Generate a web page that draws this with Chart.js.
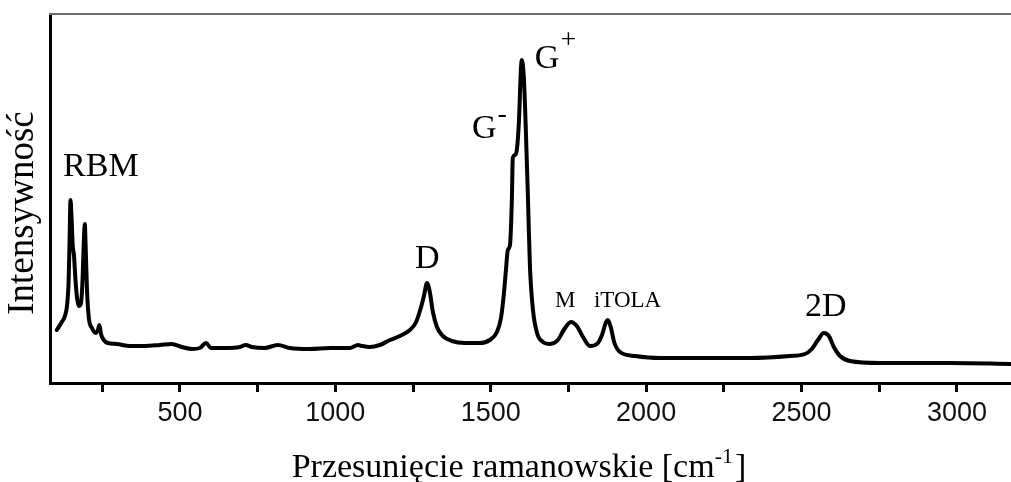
<!DOCTYPE html>
<html>
<head>
<meta charset="utf-8">
<script src="https://cdn.jsdelivr.net/npm/chart.js@4/dist/chart.umd.min.js"></script>
<style>
  html, body { margin: 0; padding: 0; background: #fff; }
  #wrap { width: 1011px; height: 482px; }
</style>
</head>
<body>
<div id="wrap"><canvas id="ramanCanvas" width="1011" height="482"></canvas></div>
<script>
// Raman spectrum: shift in cm^-1 and intensity in arbitrary units
const shift = [
  104, 120, 130, 137, 142, 145, 148, 151, 155, 159, 164, 169, 175, 181, 186, 191, 194, 197, 201, 207,
  217, 229, 236, 241, 246, 255, 268, 297, 339, 387, 436, 474, 506, 539, 564, 584, 600, 645, 693, 712,
  732, 773, 815, 854, 918, 983, 1047, 1073, 1086, 1111, 1143, 1176, 1208, 1240, 1260, 1275, 1285, 1295, 1304, 1314,
  1327, 1346, 1375, 1417, 1465, 1497, 1520, 1533, 1542, 1549, 1555, 1562, 1568, 1571, 1578, 1584, 1591, 1597, 1600, 1607,
  1613, 1620, 1626, 1636, 1649, 1668, 1691, 1716, 1735, 1758, 1777, 1797, 1819, 1842, 1858, 1871, 1877, 1887, 1897, 1916,
  1964, 2044, 2173, 2334, 2463, 2511, 2533, 2553, 2572, 2588, 2604, 2624, 2656, 2752, 2977, 3174
];
const intensity = [
  53, 61, 67, 78, 103, 143, 183, 168, 138, 128, 103, 85, 77, 79, 98, 143, 159, 133, 93, 65,
  55, 50, 53, 58, 49, 43, 40, 39, 37, 37, 38, 39, 36, 34, 35, 40, 35, 35, 36, 38,
  36, 35, 38, 35, 34, 35, 35, 38, 37, 36, 38, 43, 47, 53, 61, 75, 87, 100, 91, 71,
  56, 47, 42, 40, 40, 43, 51, 65, 88, 113, 133, 138, 183, 225, 228, 233, 263, 313, 323, 303,
  253, 183, 118, 73, 50, 41, 39, 43, 53, 61, 57, 46, 37, 39, 48, 61, 63, 55, 41, 31,
  27, 25, 25, 25, 27, 29, 34, 43, 50, 47, 36, 27, 22, 20, 20, 19
];

// axis range and tick labels
const xMin = 82;
const xMax = 3174;
const yMin = 0;
const yMax = 369;
const tickStep = 250;
const tickLabels = [500, 1000, 1500, 2000, 2500, 3000];

// peak labels: text, superscript, anchor (left edge / baseline) in data units
const peakText = ['RBM', 'D', 'G', 'G', 'M', 'iTOLA', '2D'];
const peakSup = ['', '', '-', '+', '', '', ''];
const peakX = [124, 1256, 1440, 1642, 1707, 1832, 2511];
const peakY = [207, 115, 245, 315, 76, 76, 67];
const peakBig = [true, true, true, true, false, false, true];

const xTitle = 'Przesunięcie ramanowskie [cm';
const xTitleSup = '-1';
const xTitleEnd = ']';
const yTitle = 'Intensywność';

const serif = '"Liberation Serif", "Times New Roman", serif';

const points = shift.map((s, i) => ({ x: s, y: intensity[i] }));

// labels, titles and the grey top frame line
const annotate = {
  id: 'annotate',
  afterDraw(chart) {
    const ctx = chart.ctx;
    const xs = chart.scales.x;
    const ys = chart.scales.y;
    const area = chart.chartArea;
    ctx.save();

    // top frame
    ctx.strokeStyle = '#6e6e6e';
    ctx.lineWidth = 2;
    ctx.beginPath();
    ctx.moveTo(area.left - 1, area.top);
    ctx.lineTo(area.right, area.top);
    ctx.stroke();

    ctx.fillStyle = '#000';
    ctx.textBaseline = 'alphabetic';
    ctx.textAlign = 'left';
    for (let i = 0; i < peakText.length; i++) {
      const px = xs.getPixelForValue(peakX[i]);
      const py = ys.getPixelForValue(peakY[i]);
      const size = peakBig[i] ? 34 : 23;
      ctx.font = size + 'px ' + serif;
      ctx.fillText(peakText[i], px, py);
      if (peakSup[i]) {
        const w = ctx.measureText(peakText[i]).width;
        ctx.font = '28px ' + serif;
        ctx.fillText(peakSup[i], px + w + 1, py - (peakSup[i] === '+' ? 20 : 16));
      }
    }

    // x title with superscript
    const big = '34px ' + serif;
    const small = '22px ' + serif;
    ctx.font = big;
    const w1 = ctx.measureText(xTitle).width;
    const w3 = ctx.measureText(xTitleEnd).width;
    ctx.font = small;
    const w2 = ctx.measureText(xTitleSup).width;
    const total = w1 + w2 + 2 + w3;
    let tx = 519 - total / 2;
    const ty = 477;
    ctx.font = big;
    ctx.fillText(xTitle, tx, ty);
    tx += w1;
    ctx.font = small;
    ctx.fillText(xTitleSup, tx, ty - 14);
    tx += w2 + 2;
    ctx.font = big;
    ctx.fillText(xTitleEnd, tx, ty);

    // y title
    ctx.translate(33, 213);
    ctx.rotate(-Math.PI / 2);
    ctx.textAlign = 'center';
    ctx.font = '37px ' + serif;
    ctx.fillText(yTitle, 0, 0);
    ctx.restore();
  }
};

new Chart(document.getElementById('ramanCanvas').getContext('2d'), {
  type: 'line',
  data: {
    datasets: [{
      data: points,
      borderColor: '#000',
      borderWidth: 4,
      pointRadius: 0,
      fill: false,
      cubicInterpolationMode: 'monotone',
      borderJoinStyle: 'round',
      borderCapStyle: 'round'
    }]
  },
  options: {
    responsive: false,
    animation: false,
    layout: { padding: { top: 14, right: 0, left: 0, bottom: 0 } },
    plugins: { legend: { display: false }, tooltip: { enabled: false } },
    scales: {
      x: {
        type: 'linear',
        min: xMin,
        max: xMax,
        afterFit: s => { s.height = 99; },
        border: { color: '#000', width: 3 },
        grid: { drawOnChartArea: false, drawTicks: true, tickLength: 9, tickWidth: 3, tickColor: '#000' },
        ticks: {
          stepSize: tickStep,
          includeBounds: false,
          autoSkip: false,
          maxRotation: 0,
          padding: 5,
          color: '#111',
          font: { family: '"Liberation Sans", Arial, sans-serif', size: 27 },
          callback: v => tickLabels.includes(v) ? String(v) : ''
        }
      },
      y: {
        min: yMin,
        max: yMax,
        afterFit: s => { s.width = 50; },
        border: { color: '#000', width: 3 },
        grid: { display: false },
        ticks: { display: false }
      }
    }
  },
  plugins: [annotate]
});
</script>
</body>
</html>
